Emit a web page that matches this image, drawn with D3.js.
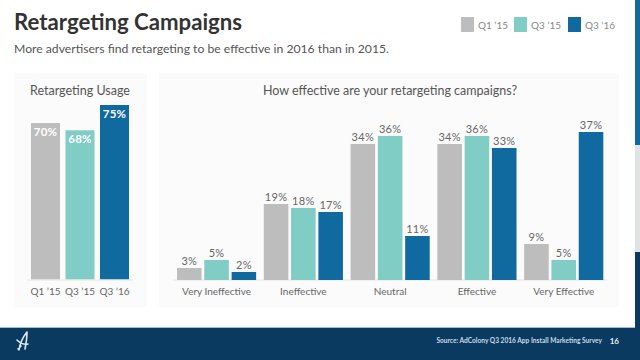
<!DOCTYPE html>
<html>
<head>
<meta charset="utf-8">
<script src="https://cdn.jsdelivr.net/npm/d3@7"></script>
<style>
  html, body { margin: 0; padding: 0; background: #fff; }
  svg { display: block; font-family: Lato, "Open Sans", sans-serif; }
</style>
</head>
<body>
<svg id="chart" width="640" height="360"></svg>
<script>
// ---- data ----
const seriesNames = ["Q1 ’15", "Q3 ’15", "Q3 ’16"];
const seriesColors = ["#bdbdbd", "#7fcdc4", "#106a9f"];
const usageValues = [70, 68, 75];
const effectCategories = ["Very Ineffective", "Ineffective", "Neutral", "Effective", "Very Effective"];
const effectQ1_15 = [3, 19, 34, 34, 9];
const effectQ3_15 = [5, 18, 36, 36, 5];
const effectQ3_16 = [2, 17, 11, 33, 37];
const titleText = "Retargeting Campaigns";
const subtitleText = "More advertisers find retargeting to be effective in 2016 than in 2015.";
const leftTitle = "Retargeting Usage";
const rightTitle = "How effective are your retargeting campaigns?";
const sourceText = "Source:  AdColony Q3 2016 App Install Marketing Survey";
const pageNumber = "16";

const svg = d3.select("#chart");
const fmt = v => v + "%";

// ---- page frame ----
svg.append("rect").attr("x", 0).attr("y", 0).attr("width", 640).attr("height", 360).attr("fill", "#fff");
// right edge strip
svg.append("rect").attr("x", 635).attr("y", 0).attr("width", 5).attr("height", 145).attr("fill", "#106a9f");
svg.append("rect").attr("x", 635).attr("y", 145).attr("width", 5).attr("height", 107).attr("fill", "#dfe3e6");
svg.append("rect").attr("x", 635).attr("y", 252).attr("width", 5).attr("height", 108).attr("fill", "#0b3a60");
// footer
svg.append("rect").attr("x", 0).attr("y", 327).attr("width", 640).attr("height", 33).attr("fill", "#0b3a60");
svg.append("rect").attr("x", 0).attr("y", 327).attr("width", 635).attr("height", 1).attr("fill", "#9dbfd9");

// panels
svg.append("rect").attr("x", 14).attr("y", 73).attr("width", 133).attr("height", 234).attr("fill", "#fbfbfb");
svg.append("rect").attr("x", 159).attr("y", 73).attr("width", 460).attr("height", 234).attr("fill", "#fbfbfb");

// ---- titles ----
svg.append("text").attr("x", 14).attr("y", 30).attr("font-size", 22.2).attr("font-weight", 700)
  .attr("fill", "#333").text(titleText);
svg.append("text").attr("x", 14).attr("y", 53).attr("font-size", 12.2).attr("fill", "#555").text(subtitleText);

// legend
const legendX = [461, 514, 568];
const lg = svg.append("g");
seriesNames.forEach((s, i) => {
  lg.append("rect").attr("x", legendX[i]).attr("y", 17).attr("width", 13).attr("height", 15).attr("fill", seriesColors[i]);
  lg.append("text").attr("x", legendX[i] + 17).attr("y", 29).attr("font-size", 10).attr("fill", "#888").text(s);
});

// ---- left chart ----
const xL = d3.scaleBand().domain(seriesNames).range([31, 129]).paddingInner(0.16).paddingOuter(0);
const yL = d3.scaleLinear().domain([26.7, 75]).range([279.5, 105]);
const left = svg.append("g");
left.append("text").attr("x", 80).attr("y", 94.5).attr("text-anchor", "middle").attr("font-size", 12.5)
  .attr("fill", "#555").text(leftTitle);
left.selectAll("rect.bar").data(usageValues).join("rect").attr("class", "bar")
  .attr("x", (d, i) => xL(seriesNames[i])).attr("width", xL.bandwidth())
  .attr("y", d => yL(d)).attr("height", d => yL.range()[0] - yL(d))
  .attr("fill", (d, i) => seriesColors[i]);
left.selectAll("text.val").data(usageValues).join("text").attr("class", "val")
  .attr("x", (d, i) => xL(seriesNames[i]) + xL.bandwidth() / 2).attr("y", d => yL(d) + 12.5)
  .attr("text-anchor", "middle").attr("font-size", 11.5).attr("font-weight", 700).attr("fill", "#fff")
  .attr("letter-spacing", 0.3).text(fmt);
left.append("line").attr("x1", 27).attr("x2", 133).attr("y1", 280).attr("y2", 280)
  .attr("stroke", "#e6e6e6").attr("stroke-width", 1);
const axL = d3.axisBottom(xL).tickSize(0).tickPadding(0);
const gAxL = left.append("g").attr("transform", "translate(0,280)").call(axL);
gAxL.select(".domain").remove();
gAxL.selectAll("text").attr("y", 15).attr("dy", null).attr("font-size", 10).attr("fill", "#666")
  .attr("font-family", "Lato, 'Open Sans', sans-serif");

// ---- right chart ----
const effectSeries = [effectQ1_15, effectQ3_15, effectQ3_16];
const x0 = d3.scaleBand().domain(effectCategories).range([177, 603.3]).paddingInner(0.088).paddingOuter(0);
const x1 = d3.scaleBand().domain(d3.range(3)).range([0, x0.bandwidth()]).paddingInner(0.1).paddingOuter(0);
const yR = d3.scaleLinear().domain([0, 37]).range([280, 132]);
const right = svg.append("g");
right.append("text").attr("x", 390).attr("y", 94.5).attr("text-anchor", "middle").attr("font-size", 12.5)
  .attr("fill", "#555").text(rightTitle);
right.append("line").attr("x1", 173).attr("x2", 607).attr("y1", 280).attr("y2", 280)
  .attr("stroke", "#e6e6e6").attr("stroke-width", 1);
const flat = [];
effectCategories.forEach((c, ci) => effectSeries.forEach((s, si) => flat.push({ c, si, v: s[ci] })));
right.selectAll("rect.bar").data(flat).join("rect").attr("class", "bar")
  .attr("x", d => x0(d.c) + x1(d.si)).attr("width", x1.bandwidth())
  .attr("y", d => yR(d.v)).attr("height", d => yR(0) - yR(d.v))
  .attr("fill", d => seriesColors[d.si]);
right.selectAll("text.val").data(flat).join("text").attr("class", "val")
  .attr("x", d => x0(d.c) + x1(d.si) + x1.bandwidth() / 2).attr("y", d => yR(d.v) - 3)
  .attr("text-anchor", "middle").attr("font-size", 11).attr("fill", "#666")
  .attr("letter-spacing", 0.3).text(d => fmt(d.v));
const axR = d3.axisBottom(x0).tickSize(0).tickPadding(0);
const gAxR = right.append("g").attr("transform", "translate(0,280)").call(axR);
gAxR.select(".domain").remove();
gAxR.selectAll("text").attr("y", 15).attr("dy", null).attr("font-size", 10).attr("fill", "#666")
  .attr("font-family", "Lato, 'Open Sans', sans-serif");

// ---- footer text ----
svg.append("text").attr("x", 602).attr("y", 343).attr("text-anchor", "end").attr("font-size", 6.6)
  .attr("font-weight", 700).attr("fill", "#c9dbea").text(sourceText);
svg.append("text").attr("x", 619).attr("y", 343.5).attr("text-anchor", "end").attr("font-size", 8)
  .attr("font-weight", 700).attr("fill", "#e8f0f7").text(pageNumber);

// logo (stylized swoosh)
const logo = svg.append("g").attr("fill", "none").attr("stroke", "#dfe9f2").attr("stroke-width", 1.6)
  .attr("stroke-linecap", "round");
logo.append("path").attr("d", "M27,332 C23,337 20,343 19,350 M27,332 C27,338 26,344 25,349 M17,340 C20,343 23,345 28,344 M18,349 L21,346");
</script>
</body>
</html>
